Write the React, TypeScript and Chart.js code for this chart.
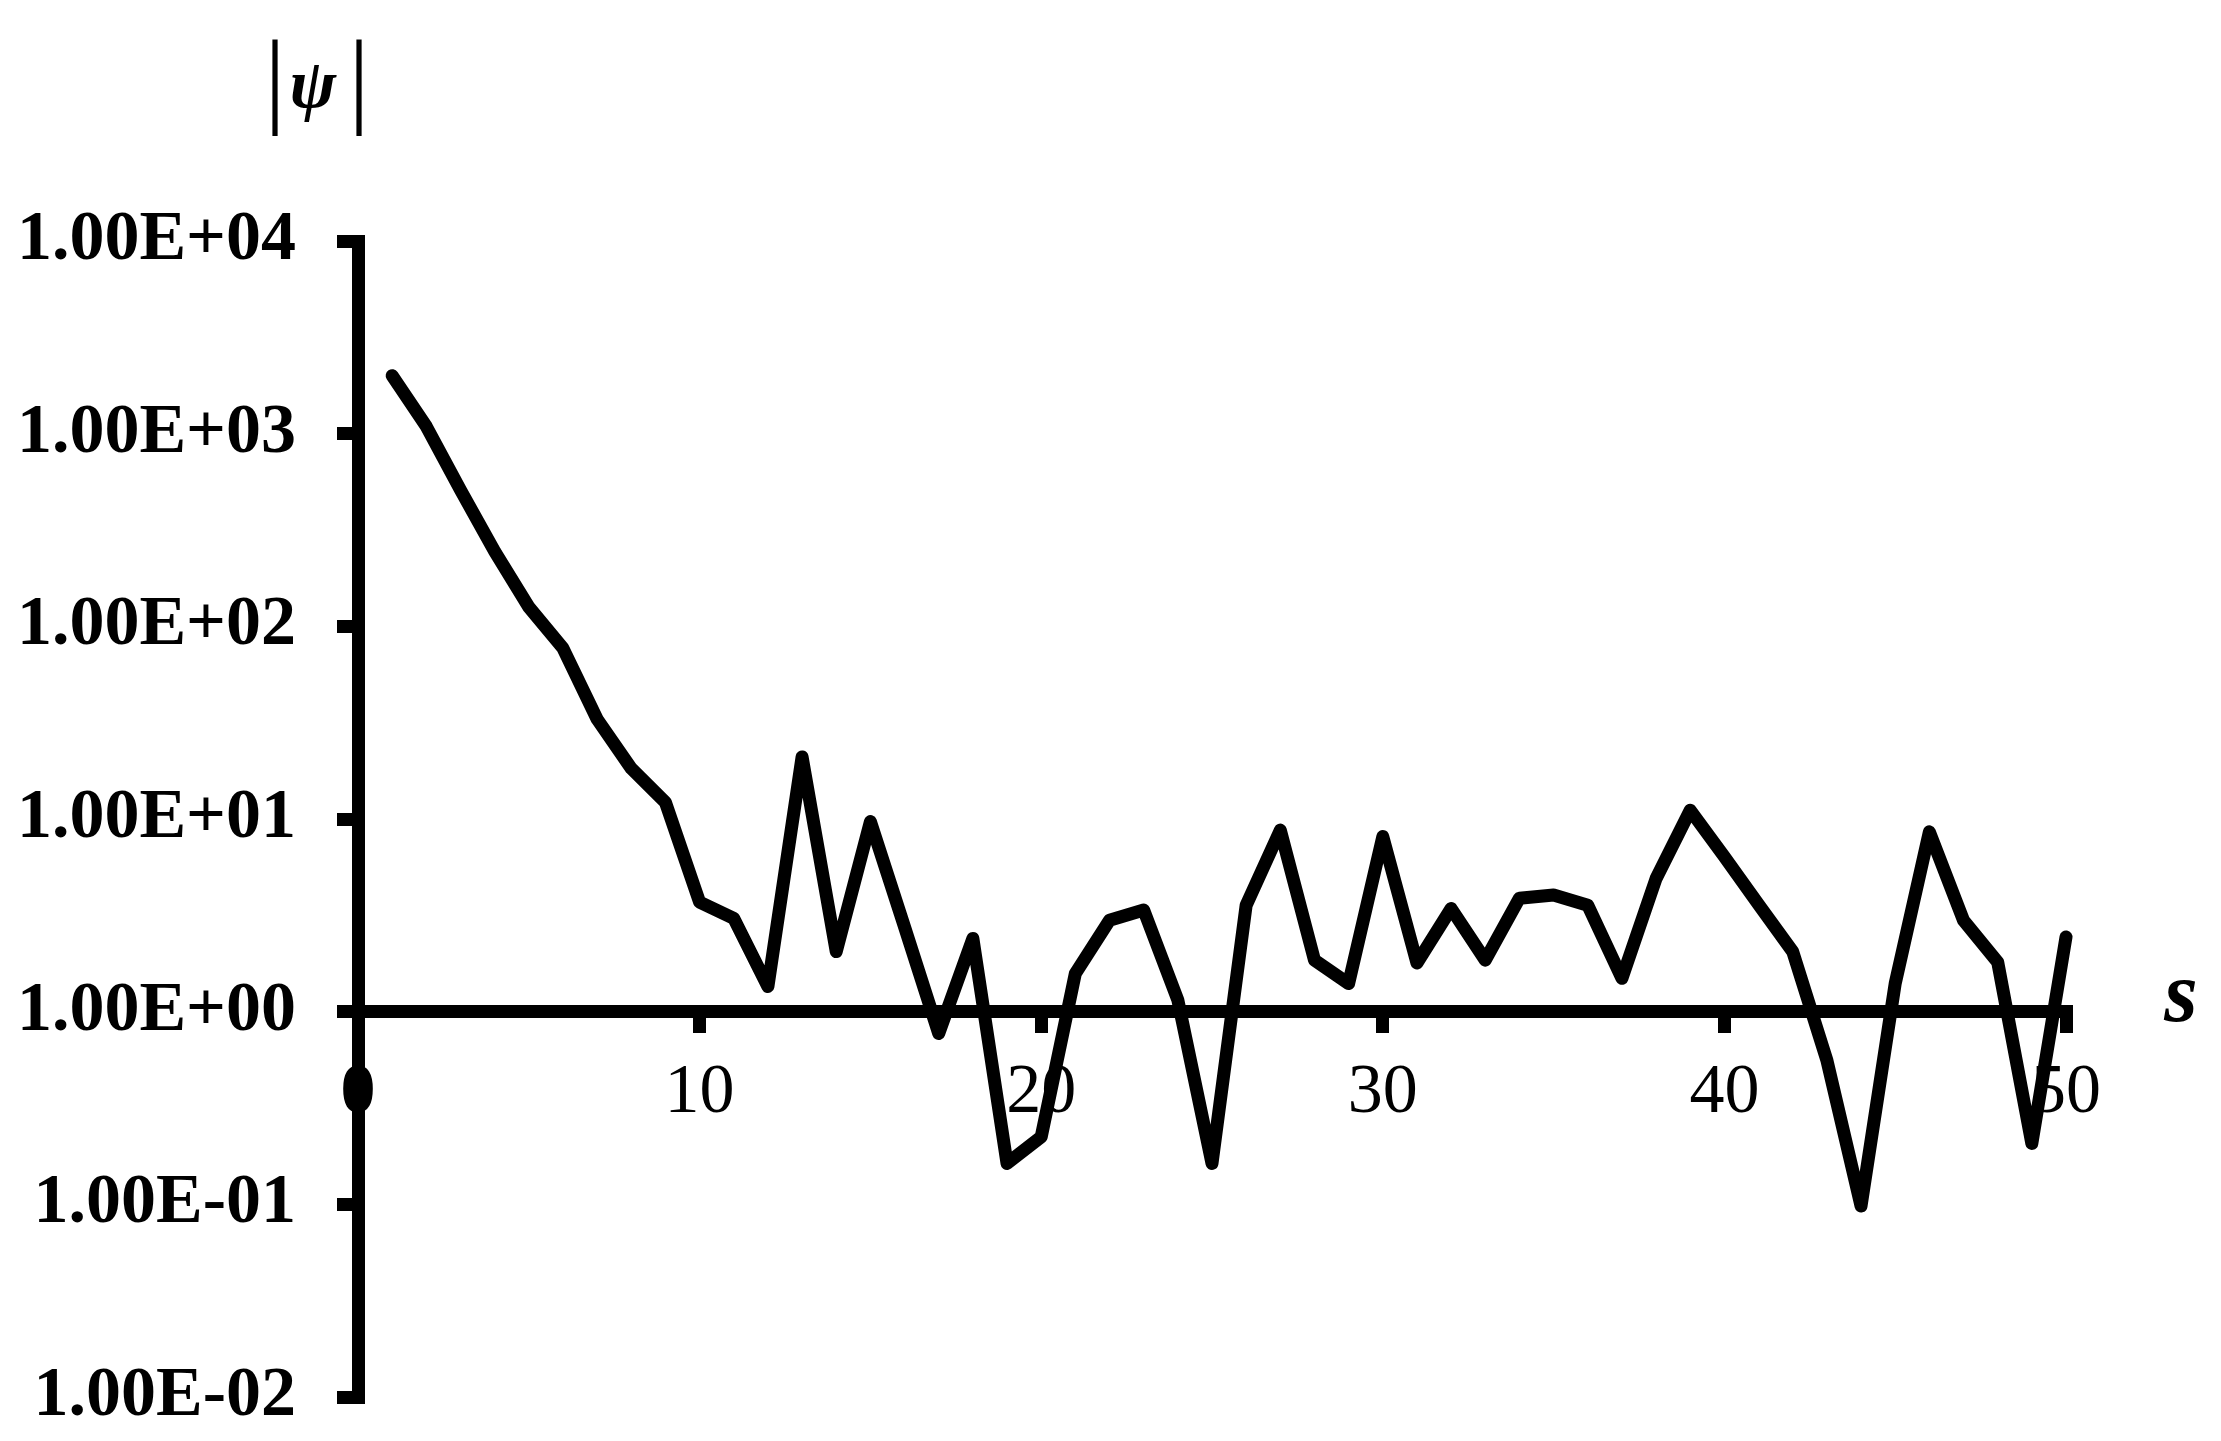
import React, { useEffect, useRef } from "react";
import { Chart, registerables } from "chart.js";

Chart.register(...registerables);

// ---- data ----
const sValues = [
  1, 2, 3, 4, 5, 6, 7, 8, 9, 10,
  11, 12, 13, 14, 15, 16, 17, 18, 19, 20,
  21, 22, 23, 24, 25, 26, 27, 28, 29, 30,
  31, 32, 33, 34, 35, 36, 37, 38, 39, 40,
  41, 42, 43, 44, 45, 46, 47, 48, 49, 50,
];
const psiValues = [
  2000, 1090, 510, 245, 126, 77, 33, 18.3, 12.2, 3.7,
  3.05, 1.35, 21, 2.05, 9.7, 2.75, 0.77, 2.4, 0.163, 0.224,
  1.58, 2.98, 3.37, 1.15, 0.163, 3.57, 8.76, 1.85, 1.4, 8.1,
  1.79, 3.43, 1.85, 3.88, 4.03, 3.57, 1.49, 4.91, 11.1, 6.37,
  3.6, 2.05, 0.56, 0.098, 1.4, 8.58, 2.98, 1.81, 0.207, 2.44,
];
const yTickValues = [0.01, 0.1, 1, 10, 100, 1000, 10000];
const yTickLabels = ["1.00E-02", "1.00E-01", "1.00E+00", "1.00E+01", "1.00E+02", "1.00E+03", "1.00E+04"];
const xTickValues = [0, 10, 20, 30, 40, 50];
const xTickLabels = ["0", "10", "20", "30", "40", "50"];
const yTitleParts = ["|", "\u03C8", "|"];
const xTitle = "s";

const SERIF = "'Liberation Serif', 'Times New Roman', serif";

const titlesPlugin = {
  id: "axisTitles",
  afterDraw(chart: any) {
    const { ctx, chartArea, scales } = chart;
    ctx.save();
    ctx.fillStyle = "#000";
    // |psi| above the y axis
    const baseY = chartArea.top - 128;
    ctx.textAlign = "center";
    ctx.textBaseline = "alphabetic";
    ctx.font = `105px ${SERIF}`;
    ctx.fillText(yTitleParts[0], chartArea.left - 83, baseY);
    ctx.fillText(yTitleParts[2], chartArea.left + 1, baseY);
    ctx.font = `bold italic 70px ${SERIF}`;
    ctx.fillText(yTitleParts[1], chartArea.left - 45, baseY - 6);
    // s at right end of x axis
    const y1 = scales.y.getPixelForValue(1);
    ctx.font = `bold italic 86px ${SERIF}`;
    ctx.fillText(xTitle, chartArea.right + 115, y1 + 9);
    ctx.restore();
  },
};

export default function App() {
  const canvasRef = useRef<HTMLCanvasElement | null>(null);

  useEffect(() => {
    const canvas = canvasRef.current;
    if (!canvas) return;
    const chart = new Chart(canvas, {
      type: "line",
      data: {
        datasets: [
          {
            data: sValues.map((s, i) => ({ x: s, y: psiValues[i] })),
            borderColor: "#000",
            borderWidth: 13,
            pointRadius: 0,
            tension: 0,
            borderCapStyle: "round",
            borderJoinStyle: "round",
            fill: false,
            clip: false as any,
          },
        ],
      },
      options: {
        animation: false,
        responsive: false,
        devicePixelRatio: 1,
        layout: { padding: { left: 0, top: 241, right: 155, bottom: 44 } },
        plugins: {
          legend: { display: false },
          tooltip: { enabled: false },
          title: { display: false },
        },
        scales: {
          x: {
            type: "linear",
            position: { y: 1 } as any,
            min: 0,
            max: 50,
            afterBuildTicks: (scale: any) => {
              scale.ticks = xTickValues.map((v) => ({ value: v }));
            },
            ticks: {
              autoSkip: false,
              maxRotation: 0,
              padding: 25,
              color: "#000",
              font: (ctx: any) => ({
                family: SERIF,
                size: 70,
                weight: ctx.index === 0 ? "bold" : "normal",
              }),
              callback: (_v: any, i: number) => xTickLabels[i],
            },
            grid: {
              drawOnChartArea: false,
              color: "#000",
              lineWidth: 13,
              tickLength: 15,
            },
            border: { display: true, color: "#000", width: 13 },
          },
          y: {
            type: "logarithmic",
            position: "left",
            min: 0.01,
            max: 10000,
            afterBuildTicks: (scale: any) => {
              scale.ticks = yTickValues.map((v) => ({ value: v }));
            },
            afterFit: (scale: any) => {
              scale.width = 358;
              scale.paddingTop = 0;
              scale.paddingBottom = 0;
            },
            ticks: {
              autoSkip: false,
              padding: 41,
              color: "#000",
              font: { family: SERIF, size: 70, weight: "bold" },
              callback: (_v: any, i: number) => yTickLabels[i],
            },
            grid: {
              drawOnChartArea: false,
              color: "#000",
              lineWidth: 13,
              tickLength: 21,
            },
            border: { display: true, color: "#000", width: 13 },
          },
        },
      },
      plugins: [titlesPlugin],
    });
    return () => chart.destroy();
  }, []);

  return (
    <div
      style={{
        position: "fixed",
        left: 0,
        top: 0,
        width: 2221,
        height: 1441,
        background: "#fff",
      }}
    >
      <canvas ref={canvasRef} width={2221} height={1441} style={{ display: "block", width: 2221, height: 1441 }} />
    </div>
  );
}
